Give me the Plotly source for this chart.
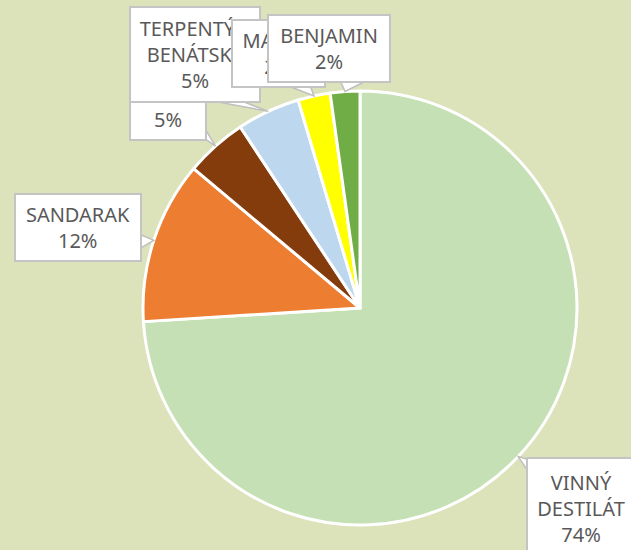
import math
import plotly.graph_objects as go

# ---- data ----
categories = ["VINNÝ DESTILÁT", "SANDARAK", "ŠELAK", "TERPENTÝN BENÁTSKÝ", "MASTIX", "BENJAMIN"]
values = [74.0, 12.1, 4.6, 4.7, 2.4, 2.2]
label_lines = [["VINNÝ", "DESTILÁT"], ["SANDARAK"], [], ["TERPENTÝN", "BENÁTSKÝ"], ["MASTIX"], ["BENJAMIN"]]
colors = ["#C5E0B4", "#ED7D31", "#843C0C", "#BDD7EE", "#FFFF00", "#70AD47"]

# ---- layout geometry (pixels) ----
W, H = 631, 550
CX, CY, R = 360, 308, 217
# callout boxes: centre x, centre y, width, height
boxes = [(581, 508, 108, 100), (78, 227.5, 126, 67), (168, 119, 76, 42),
         (195, 54.5, 130, 95), (278.5, 53.5, 93, 67), (329, 48.5, 122, 67)]
# callout wedge bases (two points on the box edge)
wedge_bases = [((530, 460), (530, 474)), ((139, 234), (139, 249)), ((204, 127), (204, 138)),
               ((207, 100), (239, 100)), ((286, 85), (310, 85)), ((340, 80), (368, 80))]

def px(x):
    return x / W

def py(y):
    return 1 - y / H

fig = go.Figure(go.Pie(
    labels=categories, values=values, sort=False, direction="clockwise", rotation=0,
    marker=dict(colors=colors, line=dict(color="white", width=3)),
    textinfo="none", hoverinfo="label+percent",
    domain=dict(x=[px(CX - R), px(CX + R)], y=[py(CY + R), py(CY - R)]),
))

total = sum(values)
shapes, annotations = [], []
cum = 0.0
for i, v in enumerate(values):
    theta = 2 * math.pi * (cum + v / 2) / total
    cum += v
    tx, ty = CX + R * math.sin(theta), CY - R * math.cos(theta)
    (x1, y1), (x2, y2) = wedge_bases[i]
    shapes.append(dict(
        type="path", xref="paper", yref="paper",
        path=f"M {px(x1)},{py(y1)} L {px(tx)},{py(ty)} L {px(x2)},{py(y2)} Z",
        fillcolor="white", line=dict(color="#BFBFBF", width=1.5), layer="above"))
    bx, by, bw, bh = boxes[i]
    pct = f"{round(v / total * 100)}%"
    annotations.append(dict(
        x=px(bx), y=py(by), xref="paper", yref="paper", xanchor="center", yanchor="middle",
        text="<br>".join(label_lines[i] + [pct]), showarrow=False, align="center",
        width=bw - 2, height=bh - 2, borderpad=0,
        bgcolor="white", bordercolor="#C4C4C4", borderwidth=2,
        font=dict(family="Noto Sans", size=20, color="#595959")))

fig.update_layout(
    width=W, height=H, margin=dict(l=0, r=0, t=0, b=0),
    paper_bgcolor="#DCE3BA", plot_bgcolor="#DCE3BA", showlegend=False,
    shapes=shapes, annotations=annotations,
)

fig.write_html("out.html", config={"displayModeBar": False},
               post_script="document.body.style.margin='0';document.body.style.overflow='hidden';")
